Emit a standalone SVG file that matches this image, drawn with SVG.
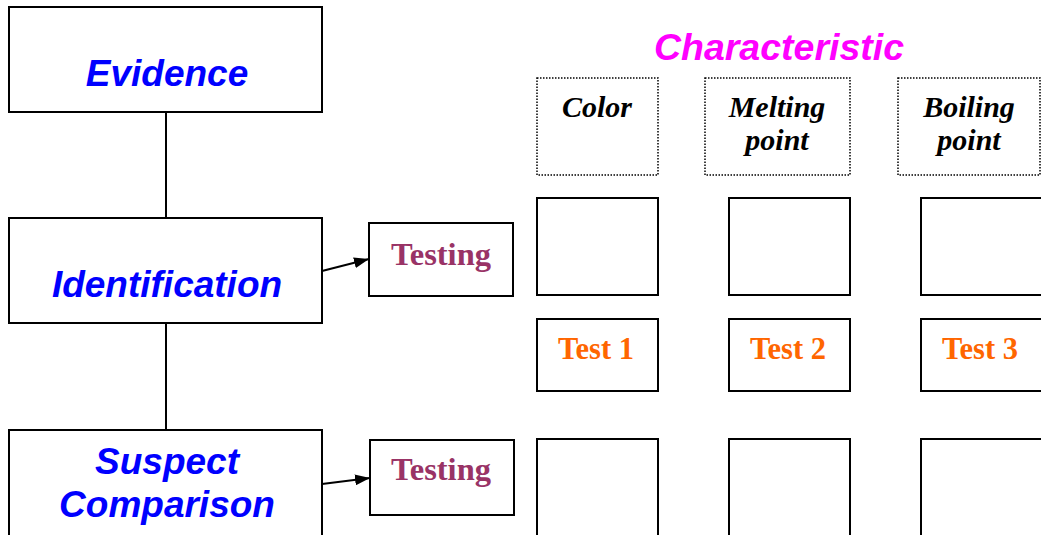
<svg xmlns="http://www.w3.org/2000/svg" width="1041" height="535" viewBox="0 0 1041 535">
<style>
.box{fill:#fff;stroke:#000;stroke-width:2}
.dot{fill:#fff;stroke:#000;stroke-width:1.5;stroke-dasharray:1.5 1.5}
.main{font-family:"Liberation Sans",Arial,sans-serif;font-weight:bold;font-style:italic;font-size:37px;fill:#0000ff;text-anchor:middle}
.hdr{font-family:"Liberation Serif","Times New Roman",serif;font-weight:bold;font-style:italic;font-size:30px;fill:#000;text-anchor:middle}
.tst{font-family:"Liberation Serif","Times New Roman",serif;font-weight:bold;font-size:32.5px;fill:#993366;text-anchor:middle}
.t{font-family:"Liberation Serif","Times New Roman",serif;font-weight:bold;font-size:30.5px;fill:#ff6600;text-anchor:middle}
.conn{stroke:#000;stroke-width:2;fill:none}
</style>
<defs>
<marker id="arr" viewBox="0 0 15 11" refX="15" refY="5.5" markerWidth="15" markerHeight="11" markerUnits="userSpaceOnUse" orient="auto">
<path d="M0,0 L15,5.5 L0,11 z" fill="#000"/>
</marker>
</defs>
<g id="connectors">
<line class="conn" x1="166" y1="112" x2="166" y2="218"/>
<line class="conn" x1="166" y1="323" x2="166" y2="430"/>
<line class="conn" x1="322" y1="271" x2="369" y2="259" marker-end="url(#arr)"/>
<line class="conn" x1="322" y1="484" x2="370" y2="478" marker-end="url(#arr)"/>
</g>
<text x="779" y="60" style="font-family:'Liberation Sans',Arial,sans-serif;font-weight:bold;font-style:italic;font-size:37.5px;fill:#ff00ff;text-anchor:middle">Characteristic</text>
<g id="evidence"><rect class="box" x="9" y="7" width="313" height="105"/><text class="main" x="167" y="86">Evidence</text></g>
<g id="identification"><rect class="box" x="9" y="218" width="313" height="105"/><text class="main" x="167" y="297">Identification</text></g>
<g id="suspect"><rect class="box" x="9" y="430" width="313" height="110"/><text class="main" x="167" y="474">Suspect</text><text class="main" x="167" y="517">Comparison</text></g>
<g id="testing1"><rect class="box" x="369" y="223" width="144" height="73"/><text class="tst" x="441" y="265">Testing</text></g>
<g id="testing2"><rect class="box" x="370" y="440" width="144" height="75"/><text class="tst" x="441" y="480">Testing</text></g>
<g id="color"><rect class="dot" x="537" y="78" width="121" height="97"/><text class="hdr" x="597" y="117">Color</text></g>
<g id="melting"><rect class="dot" x="705" y="78" width="145" height="97"/><text class="hdr" x="777" y="117">Melting</text><text class="hdr" x="777" y="150">point</text></g>
<g id="boiling"><rect class="dot" x="898" y="78" width="142" height="97"/><text class="hdr" x="969" y="117">Boiling</text><text class="hdr" x="969" y="150">point</text></g>
<g id="r1c1"><rect class="box" x="537" y="198" width="121" height="97"/></g>
<g id="r1c2"><rect class="box" x="729" y="198" width="121" height="97"/></g>
<g id="r1c3"><rect class="box" x="921" y="198" width="121" height="97"/></g>
<g id="test1"><rect class="box" x="537" y="319" width="121" height="72"/><text class="t" x="596" y="359">Test 1</text></g>
<g id="test2"><rect class="box" x="729" y="319" width="121" height="72"/><text class="t" x="788" y="359">Test 2</text></g>
<g id="test3"><rect class="box" x="921" y="319" width="121" height="72"/><text class="t" x="980" y="359">Test 3</text></g>
<g id="r3c1"><rect class="box" x="537" y="439" width="121" height="100"/></g>
<g id="r3c2"><rect class="box" x="729" y="439" width="121" height="100"/></g>
<g id="r3c3"><rect class="box" x="921" y="439" width="121" height="100"/></g>
</svg>
